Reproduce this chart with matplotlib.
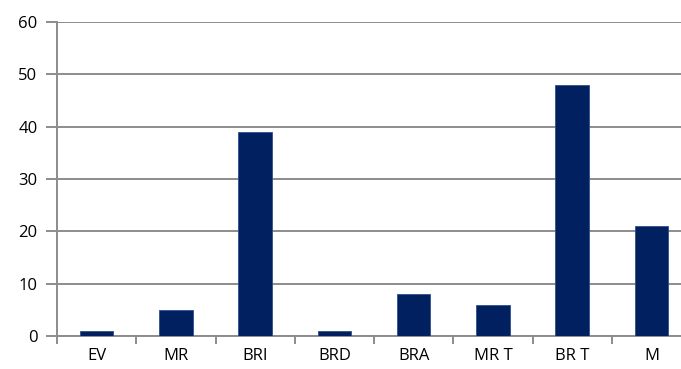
import matplotlib.pyplot as plt
import numpy as np

categories = ["EV", "MR", "BRI", "BRD", "BRA", "MR T", "BR T", "M"]
values = [1, 5, 39, 1, 8, 6, 48, 21]

plt.rcParams.update({
    "font.family": ["Open Sans", "DejaVu Sans"],
    "font.size": 12,
})

fig = plt.figure(figsize=(6.81, 3.69), dpi=100)
# axes runs a little past the right edge of the figure
ax = fig.add_axes([57 / 681, 33 / 369, 634 / 681, 314 / 369])

x = np.arange(len(categories))
ax.bar(x, values, width=0.42, color="#002060", edgecolor="#2f4f8f", linewidth=0.6, zorder=3)

ax.set_xlim(-0.5, len(categories) - 0.5)
ax.set_ylim(0, 60)
ax.set_yticks(range(0, 61, 10))
ax.grid(axis="y", color="#8c8c8c", linewidth=1.4, zorder=0)

ax.set_xticks(x)
ax.set_xticklabels(categories)
ax.set_xticks(np.arange(-0.5, len(categories)), minor=True)
ax.tick_params(axis="x", which="major", length=0, pad=9, colors="black")
ax.tick_params(axis="x", which="minor", length=6, width=1.4, color="#8c8c8c")
ax.tick_params(axis="y", length=8, width=1.4, color="#8c8c8c", labelcolor="black", pad=6)

for side in ["top", "right"]:
    ax.spines[side].set_visible(False)
for side in ["left", "bottom"]:
    ax.spines[side].set_color("#8c8c8c")
    ax.spines[side].set_linewidth(1.4)

fig.savefig("out.png", dpi=100)
